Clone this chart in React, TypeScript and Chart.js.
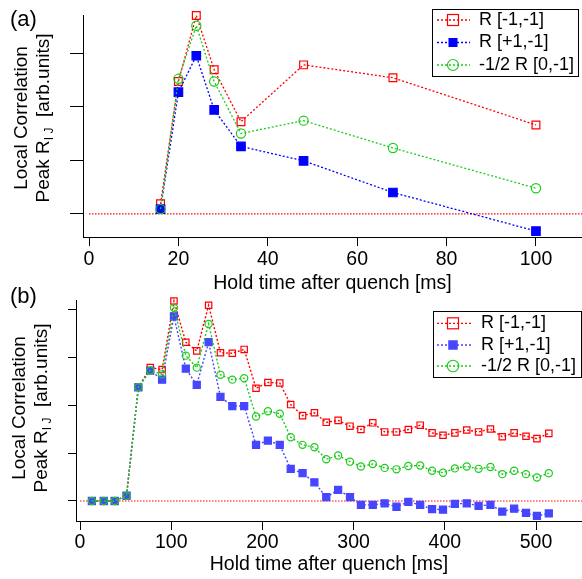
import React, { useEffect, useRef } from "react";
import { Chart, registerables } from "chart.js";

Chart.register(...registerables);

// ---------- data (a) ----------
const timesA = [16, 20, 24, 28, 34, 48, 68, 100];
const redA = [0.19, 2.47, 3.70, 2.69, 1.72, 2.78, 2.54, 1.66];
const blueA = [0.09, 2.27, 2.95, 1.94, 1.26, 0.99, 0.40, -0.32];
const greenA = [0.09, 2.52, 3.51, 2.47, 1.50, 1.74, 1.23, 0.48];
const zeroLineA = [0, 110.3];
const xTicksA = [0, 20, 40, 60, 80, 100];
const yTicksA = [0, 1, 2, 3];

// ---------- data (b) ----------
const timesB = [13, 26, 38, 51, 64, 77, 90, 103, 116, 128, 141, 154, 167, 180, 193, 206, 219, 231, 244, 257, 270, 283, 296, 308, 321, 334, 347, 360, 373, 386, 398, 411, 424, 437, 450, 463, 476, 489, 501, 514];
const redB = [0, 0, 0, 0.11, 2.37, 2.78, 2.74, 4.17, 3.31, 3.13, 4.08, 3.09, 3.08, 3.16, 2.35, 2.47, 2.46, 2.01, 1.78, 1.84, 1.64, 1.68, 1.56, 1.49, 1.63, 1.44, 1.44, 1.49, 1.58, 1.42, 1.37, 1.42, 1.48, 1.44, 1.50, 1.34, 1.42, 1.35, 1.30, 1.41];
const blueB = [0, 0, 0, 0.11, 2.37, 2.72, 2.53, 3.85, 2.76, 2.42, 3.31, 2.17, 1.98, 1.98, 1.17, 1.26, 1.17, 0.67, 0.58, 0.39, 0.08, 0.23, 0.08, -0.08, -0.08, -0.05, -0.12, -0.02, -0.08, -0.17, -0.18, -0.06, -0.05, -0.10, -0.08, -0.22, -0.16, -0.25, -0.31, -0.26];
const greenB = [0, 0, 0, 0.11, 2.37, 2.72, 2.64, 4.03, 3.03, 2.78, 3.69, 2.63, 2.53, 2.56, 1.76, 1.87, 1.82, 1.33, 1.17, 1.12, 0.87, 0.95, 0.82, 0.72, 0.77, 0.69, 0.66, 0.73, 0.74, 0.63, 0.59, 0.68, 0.72, 0.67, 0.71, 0.56, 0.63, 0.56, 0.49, 0.58];
const zeroLineB = [0, 550.4];
const xTicksB = [0, 100, 200, 300, 400, 500];
const yTicksB = [0, 1, 2, 3, 4];

const seriesLabels = ["R [-1,-1]", "R [+1,-1]", "-1/2 R [0,-1]"];
const xTitle = "Hold time after quench [ms]";

const FONT = '"Liberation Sans", Arial, Helvetica, sans-serif';
const RED = "#ff0000";
const GREEN = "#1ccc1c";

const toPts = (xs: number[], ys: number[]) => xs.map((x, i) => ({ x, y: ys[i] }));

type LegendBox = {
  x: number; y: number; w: number; h: number;
  rows: number[]; lx0: number; lx1: number; mx: number; tx: number;
  sizes: number[];
};

function makeLegend(box: LegendBox) {
  return {
    id: "boxLegend",
    afterDraw(chart: any) {
      const ctx = chart.ctx;
      ctx.save();
      ctx.fillStyle = "#fff";
      ctx.fillRect(box.x, box.y, box.w, box.h);
      ctx.strokeStyle = "#000";
      ctx.lineWidth = 1;
      ctx.strokeRect(box.x + 0.5, box.y + 0.5, box.w - 1, box.h - 1);
      const ds = chart.data.datasets.slice(0, 3);
      ds.forEach((d: any, i: number) => {
        const cy = box.rows[i];
        ctx.setLineDash([2, 2]);
        ctx.strokeStyle = d.borderColor;
        ctx.lineWidth = 1.3;
        ctx.beginPath();
        ctx.moveTo(box.lx0, cy);
        ctx.lineTo(box.lx1, cy);
        ctx.stroke();
        ctx.setLineDash([]);
        const s = box.sizes[i];
        ctx.lineWidth = 1.2;
        if (d.pointStyle === "circle") {
          ctx.beginPath();
          ctx.arc(box.mx, cy, s / 2, 0, Math.PI * 2);
          ctx.stroke();
        } else if (d.pointBackgroundColor && d.pointBackgroundColor !== "transparent") {
          ctx.fillStyle = d.pointBackgroundColor;
          ctx.fillRect(box.mx - s / 2, cy - s / 2, s, s);
        } else {
          ctx.strokeRect(box.mx - s / 2, cy - s / 2, s, s);
        }
        ctx.fillStyle = "#000";
        ctx.font = "18px " + FONT;
        ctx.textBaseline = "middle";
        ctx.textAlign = "left";
        ctx.fillText(d.label, box.tx, cy);
      });
      ctx.restore();
    },
  };
}

function buildConfig(opts: {
  times: number[]; red: number[]; blue: number[]; green: number[]; zero: number[];
  xTicks: number[]; yTicks: number[];
  xMin: number; xMax: number; yMin: number; yMax: number;
  height: number; top: number; bottom: number; left: number;
  yTickLen: number; tickPad: number; titlePad: number;
  blue_: string; rR: number; bR: number; gR: number; lw: number;
  legend: LegendBox;
}) {
  const line = (label: string, data: any, color: string, style: string, filled: boolean, r: number, order: number) => ({
    label,
    data,
    borderColor: color,
    backgroundColor: color,
    borderWidth: opts.lw,
    borderDash: [2, 2],
    pointStyle: style,
    pointRadius: r,
    pointHoverRadius: r,
    pointBorderWidth: 1.2,
    pointBorderColor: color,
    pointBackgroundColor: filled ? color : "transparent",
    showLine: true,
    clip: false as any,
    order,
  });
  return {
    type: "scatter" as const,
    data: {
      datasets: [
        line(seriesLabels[0], toPts(opts.times, opts.red), RED, "rect", false, opts.rR, 3),
        line(seriesLabels[1], toPts(opts.times, opts.blue), opts.blue_, "rect", true, opts.bR, 2),
        line(seriesLabels[2], toPts(opts.times, opts.green), GREEN, "circle", false, opts.gR, 1),
        {
          label: "zero",
          data: opts.zero.map((x) => ({ x, y: 0 })),
          borderColor: "#ff0000",
          borderWidth: 1.2,
          borderDash: [1.5, 1.5],
          pointRadius: 0,
          showLine: true,
          order: 4,
        },
      ],
    },
    options: {
      animation: false as const,
      responsive: false,
      events: [],
      layout: { autoPadding: false, padding: { top: opts.top, left: 0, right: 0, bottom: 0 } },
      plugins: { legend: { display: false }, tooltip: { enabled: false } },
      scales: {
        x: {
          type: "linear" as const,
          min: opts.xMin,
          max: opts.xMax,
          afterBuildTicks: (s: any) => { s.ticks = opts.xTicks.map((v) => ({ value: v })); },
          afterFit: (s: any) => { s.height = opts.height - opts.bottom; },
          grid: { display: true, drawOnChartArea: false, drawTicks: true, tickLength: 9, color: "#000", tickWidth: 1 },
          border: { display: true, color: "#000", width: 1 },
          ticks: { color: "#000", font: { size: 19.5, family: FONT }, padding: opts.tickPad, maxRotation: 0, autoSkip: false },
          title: { display: true, text: xTitle, color: "#000", font: { size: 19.5, family: FONT }, padding: { top: 0, bottom: opts.titlePad } },
        },
        y: {
          type: "linear" as const,
          min: opts.yMin,
          max: opts.yMax,
          afterBuildTicks: (s: any) => { s.ticks = opts.yTicks.map((v) => ({ value: v })); },
          afterFit: (s: any) => { s.width = opts.left; },
          grid: { display: true, drawOnChartArea: false, drawTicks: true, tickLength: opts.yTickLen, color: "#000", tickWidth: 1 },
          border: { display: true, color: "#000", width: 1 },
          ticks: { display: false },
        },
      },
    },
    plugins: [makeLegend(opts.legend)],
  };
}

const yLabelStyle = (cx: number, cy: number): React.CSSProperties => ({
  position: "absolute",
  left: cx,
  top: cy,
  transform: "translate(-50%,-50%) rotate(-90deg)",
  whiteSpace: "nowrap",
  textAlign: "center",
  fontSize: 19,
  lineHeight: "22px",
  color: "#000",
});

function YLabel({ cx, cy }: { cx: number; cy: number }) {
  return (
    <div style={yLabelStyle(cx, cy)}>
      <div>Local Correlation</div>
      <div>
        Peak R
        <sub style={{ fontSize: 12, verticalAlign: "-4px", lineHeight: 0 }}>I J</sub>
        {"\u00a0\u00a0[arb.units]"}
      </div>
    </div>
  );
}

export default function App() {
  const refA = useRef<HTMLCanvasElement>(null);
  const refB = useRef<HTMLCanvasElement>(null);

  useEffect(() => {
    Chart.defaults.font.family = FONT;
    const a = new Chart(refA.current as HTMLCanvasElement, buildConfig({
      times: timesA, red: redA, blue: blueA, green: greenA, zero: zeroLineA,
      xTicks: xTicksA, yTicks: yTicksA,
      xMin: -1.35, xMax: 110.3, yMin: -0.43, yMax: 3.71,
      height: 296, top: 15, bottom: 237, left: 83,
      yTickLen: 13, tickPad: 2, titlePad: 1,
      blue_: "#0000ff", rR: 5.5, bR: 6, gR: 4.6, lw: 1.3,
      legend: { x: 432, y: 9, w: 147, h: 68, rows: [20, 42.5, 65], lx0: 437, lx1: 470, mx: 453, tx: 479, sizes: [11, 9, 11] },
    }) as any);
    const b = new Chart(refB.current as HTMLCanvasElement, buildConfig({
      times: timesB, red: redB, blue: blueB, green: greenB, zero: zeroLineB,
      xTicks: xTicksB, yTicks: yTicksB,
      xMin: -4.4, xMax: 550.4, yMin: -0.417, yMax: 4.19,
      height: 289, top: 10, bottom: 231, left: 76,
      yTickLen: 8, tickPad: 1, titlePad: 3,
      blue_: "#4646ff", rR: 4.5, bR: 5, gR: 3.6, lw: 1.4,
      legend: { x: 433, y: 21, w: 149, h: 67, rows: [33.3, 55, 76], lx0: 437, lx1: 472, mx: 453, tx: 481, sizes: [11, 9.5, 11.5] },
    }) as any);
    return () => { a.destroy(); b.destroy(); };
  }, []);

  return (
    <div style={{ position: "absolute", left: 0, top: 0, width: 582, height: 579, fontFamily: FONT, background: "#fff", overflow: "hidden" }}>
      <canvas ref={refA} width={582} height={296} style={{ position: "absolute", left: 0, top: 0 }} />
      <canvas ref={refB} width={582} height={289} style={{ position: "absolute", left: 0, top: 290 }} />
      <div style={{ position: "absolute", left: 10, top: 8, fontSize: 22, lineHeight: "22px" }}>(a)</div>
      <div style={{ position: "absolute", left: 10, top: 285, fontSize: 22, lineHeight: "22px" }}>(b)</div>
      <YLabel cx={32} cy={118} />
      <YLabel cx={30} cy={408} />
    </div>
  );
}
